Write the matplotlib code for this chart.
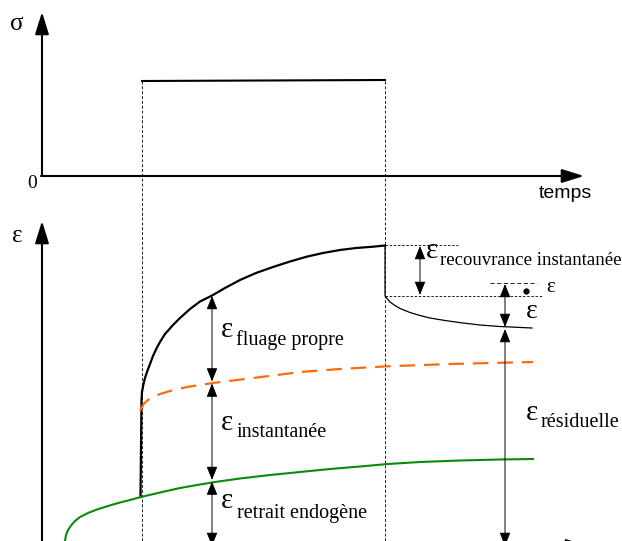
import matplotlib
matplotlib.use("Agg")
import matplotlib.pyplot as plt

# picture coordinates in pixels (x to the right, y downwards)
W, H = 622, 541

# stress step (top diagram)
sigma_x = [142, 385]
sigma_y = [81, 80]

# total strain under load (black)
charge_x = [140.5, 141.5, 142, 143.5, 145, 147, 150, 153, 156.7, 160, 165, 173, 180, 190, 200, 211.7,
            225, 240, 256, 273, 290, 306.7, 323, 340, 356, 373, 385]
charge_y = [497, 400, 392, 384, 378, 372, 364, 356, 348, 342, 334, 325, 318, 309, 301.5, 295.7,
            288, 280, 273, 267, 261.5, 256.7, 253, 250, 248, 246.7, 245.5]

# recovery after unloading (thin black)
dech_x = [385, 385, 386.7, 390, 395, 400, 410, 420, 430, 445, 463, 480, 500, 532]
dech_y = [245.5, 296, 298, 302, 305.5, 308.5, 312.5, 315.5, 318, 320.5, 323, 325, 326.5, 328]

# instantaneous + endogenous shrinkage (orange dashed)
inst_x = [140, 141.5, 144, 148, 153, 160, 170, 187, 200, 213, 233, 253, 273, 300,
          340, 387, 450, 533]
inst_y = [411, 408, 403.5, 400, 397.5, 394, 391, 387, 385, 383, 380.5, 378, 375.5, 372,
          369, 366.3, 364, 362]

# endogenous shrinkage (green)
retrait_x = [65, 66, 68, 71, 75, 80, 88, 97, 108, 120, 130, 141, 160, 180, 200, 215,
             240, 270, 300, 330, 360, 388, 420, 460, 500, 533]
retrait_y = [541, 535, 530, 525.5, 521, 517, 513, 509.5, 506, 502.5, 500, 497, 492.5,
             488, 484.5, 482, 478.5, 475, 472, 469, 466.5, 464, 462, 460.5, 459.5, 459]

fig = plt.figure(figsize=(6.22, 5.41), dpi=100)
ax = fig.add_axes([0, 0, 1, 1])
ax.set_xlim(0, W)
ax.set_ylim(H, 0)
ax.axis('off')

axe = dict(arrowstyle='-|>,head_length=0.9,head_width=0.28', color='black',
           lw=1.5, shrinkA=0, shrinkB=0, mutation_scale=15)
cote = dict(arrowstyle='<|-|>,head_length=0.55,head_width=0.22', color='black',
            lw=0.7, shrinkA=0, shrinkB=0, mutation_scale=15)

# axes of the two diagrams
ax.annotate('', xy=(42, 12), xytext=(42, 176), arrowprops=axe)
ax.annotate('', xy=(584, 176), xytext=(41, 176), arrowprops=axe)
ax.annotate('', xy=(42, 221), xytext=(42, 560), arrowprops=axe, annotation_clip=False)
ax.annotate('', xy=(588, 546), xytext=(41, 546), arrowprops=axe, annotation_clip=False)

serif = 'Liberation Serif'
ax.text(17, 24, 'σ', fontsize=18, family=serif, ha='center', va='center')
ax.text(17, 236, 'ε', fontsize=18, family=serif, ha='center', va='center')
ax.text(32, 184, '0', fontsize=14, family=serif, ha='center', va='center')
ax.text(565, 193, 'temps', fontsize=14, family='Liberation Sans', ha='center', va='center')

# stress step and dashed guides
ax.plot(sigma_x, sigma_y, color='black', lw=1.5)
for xv in sigma_x:
    ax.plot([xv, xv], [81, 560], color='#222222', lw=0.7, ls=(0, (3, 2)), clip_on=True)

ax.plot(charge_x, charge_y, color='black', lw=1.6)
ax.plot(dech_x, dech_y, color='black', lw=0.9)
ax.plot(inst_x, inst_y, color='#ff6a10', lw=1.6, ls=(0, (7, 4)))
ax.plot(retrait_x, retrait_y, color='#0a8a0a', lw=1.5)

ax.plot([385, 458], [245, 245], color='black', lw=0.6, ls=(0, (3, 2)))
ax.plot([385, 542], [296, 296], color='black', lw=0.6, ls=(0, (3, 2)))
ax.plot([490, 537], [283, 283], color='black', lw=0.6, ls=(0, (5, 3)))

# dimension arrows
ax.annotate('', xy=(212, 296), xytext=(212, 381.5), arrowprops=cote)
ax.annotate('', xy=(212, 383.5), xytext=(212, 480), arrowprops=cote)
ax.annotate('', xy=(212, 481.5), xytext=(212, 546), arrowprops=cote, annotation_clip=False)
ax.annotate('', xy=(420, 246), xytext=(420, 295), arrowprops=cote)
ax.annotate('', xy=(505, 284), xytext=(505, 327), arrowprops=cote)
ax.annotate('', xy=(505, 329), xytext=(505, 546), arrowprops=cote, annotation_clip=False)

# labels
def etiquette(x, y, sub, dx=15, dy=8, fs_sub=14.5):
    ax.text(x, y, 'ε', fontsize=21, family=serif, ha='left', va='baseline')
    ax.text(x + dx, y + dy, sub, fontsize=fs_sub, family=serif, ha='left', va='baseline')

etiquette(221, 337, 'fluage propre')
etiquette(221, 430, 'instantanée', dx=16, dy=7)
etiquette(221, 508, 'retrait endogène', dx=16, dy=10)
etiquette(426, 258, 'recouvrance instantanée', dx=14, dy=7, fs_sub=13.5)
etiquette(526, 420, 'résiduelle', dx=15, dy=7)
ax.text(546, 292, 'ε', fontsize=15, family=serif, ha='left', va='baseline')
ax.plot([525.5], [290.5], 'o', color='black', ms=3.5)
ax.text(526, 318, 'ε', fontsize=20, family=serif, ha='left', va='baseline')

fig.savefig('out.png', dpi=100)
